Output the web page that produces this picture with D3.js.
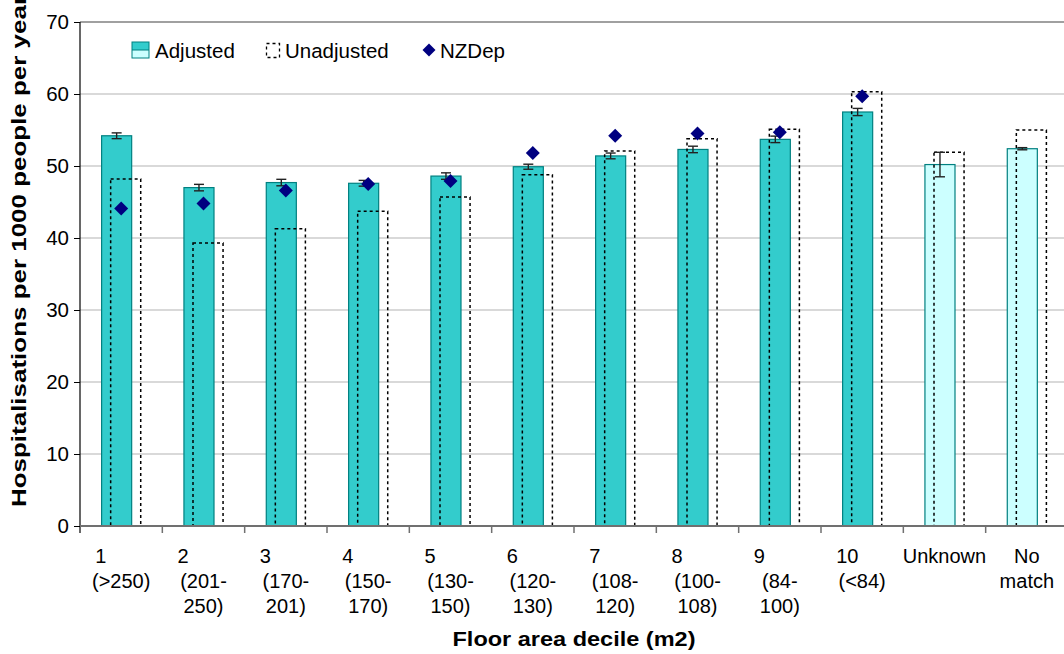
<!DOCTYPE html>
<html>
<head>
<meta charset="utf-8">
<script src="https://cdn.jsdelivr.net/npm/d3@7"></script>
<style>
  html, body { margin: 0; padding: 0; background: #fff; }
  svg { display: block; font-family: "Liberation Sans", Arial, sans-serif; }
</style>
</head>
<body>
<svg id="chart" width="1064" height="654"></svg>
<script>
// Hospitalisation rates by floor area decile
const categories = ["1", "2", "3", "4", "5", "6", "7", "8", "9", "10", "Unknown", "No match"];
const tickLabels = [
  ["1", "(>250)"],
  ["2", "(201-", "250)"],
  ["3", "(170-", "201)"],
  ["4", "(150-", "170)"],
  ["5", "(130-", "150)"],
  ["6", "(120-", "130)"],
  ["7", "(108-", "120)"],
  ["8", "(100-", "108)"],
  ["9", "(84-", "100)"],
  ["10", "(<84)"],
  ["Unknown"],
  ["No", "match"]
];
const adjusted   = [54.2, 47.0, 47.7, 47.6, 48.6, 49.9, 51.4, 52.3, 53.7, 57.5, 50.2, 52.4];
const adjustedCI = [0.4, 0.45, 0.45, 0.4, 0.45, 0.35, 0.4, 0.45, 0.45, 0.5, 1.7, 0.15];
const unadjusted = [48.2, 39.3, 41.3, 43.7, 45.7, 48.8, 52.1, 53.8, 55.1, 60.3, 51.9, 55.0];
const nzdep      = [44.1, 44.8, 46.6, 47.5, 47.9, 51.8, 54.2, 54.5, 54.7, 59.7, null, null];
const yTicks     = [0, 10, 20, 30, 40, 50, 60, 70];

const svg = d3.select("#chart");
const plot = { left: 80, right: 1068, top: 22, bottom: 526 };

const x = d3.scaleBand().domain(categories).range([plot.left, plot.right]).padding(0);
const y = d3.scaleLinear().domain([0, 70]).range([plot.bottom, plot.top]);

const bw = x.bandwidth();
const barW = bw * 0.365;
const shift = bw * 0.055;
const cx = c => x(c) + bw / 2;

const TEAL = "#33CCCC", LIGHT = "#CCFFFF", EDGE = "#008080", NAVY = "#000080";

// gridlines
svg.append("g").selectAll("line").data(yTicks.filter(t => t > 0 && t < 70)).join("line")
  .attr("x1", plot.left).attr("x2", plot.right)
  .attr("y1", d => y(d)).attr("y2", d => y(d))
  .attr("stroke", "#cccccc").attr("stroke-width", 1.3);
// top border of plot area
svg.append("line").attr("x1", plot.left).attr("x2", plot.right)
  .attr("y1", y(70)).attr("y2", y(70)).attr("stroke", "#808080").attr("stroke-width", 1.3);

// adjusted bars
svg.append("g").selectAll("rect").data(categories).join("rect")
  .attr("x", (c) => cx(c) - shift - barW / 2)
  .attr("width", barW)
  .attr("y", (c, i) => y(adjusted[i]))
  .attr("height", (c, i) => y(0) - y(adjusted[i]))
  .attr("fill", (c, i) => nzdep[i] == null ? LIGHT : TEAL)
  .attr("stroke", EDGE).attr("stroke-width", 1.2);

// unadjusted outlines (dotted)
svg.append("g").selectAll("rect").data(categories).join("rect")
  .attr("x", (c) => cx(c) + shift - barW / 2)
  .attr("width", barW)
  .attr("y", (c, i) => y(unadjusted[i]))
  .attr("height", (c, i) => y(0) - y(unadjusted[i]))
  .attr("fill", "none")
  .attr("stroke", "#000").attr("stroke-width", 1.5)
  .attr("stroke-dasharray", "3,3");

// confidence intervals on adjusted rates
const eb = svg.append("g").attr("stroke", "#222").attr("stroke-width", 1.4);
categories.forEach((c, i) => {
  const xc = cx(c) - shift;
  const hi = y(adjusted[i] + adjustedCI[i]);
  const lo = y(adjusted[i] - adjustedCI[i]);
  eb.append("line").attr("x1", xc).attr("x2", xc).attr("y1", hi).attr("y2", lo);
  eb.append("line").attr("x1", xc - 5).attr("x2", xc + 5).attr("y1", hi).attr("y2", hi);
  eb.append("line").attr("x1", xc - 5).attr("x2", xc + 5).attr("y1", lo).attr("y2", lo);
});

// NZDep markers
const dpath = s => `M0,${-s}L${s},0L0,${s}L${-s},0Z`;
svg.append("g").selectAll("path")
  .data(categories.map((c, i) => ({ c, v: nzdep[i] })).filter(d => d.v != null))
  .join("path")
  .attr("d", dpath(7))
  .attr("transform", d => `translate(${cx(d.c)},${y(d.v)})`)
  .attr("fill", NAVY);

// y axis
const yAxis = svg.append("g").attr("transform", `translate(${plot.left},0)`)
  .call(d3.axisLeft(y).tickValues(yTicks).tickSize(6).tickPadding(5).tickFormat(d3.format("d")));
yAxis.select(".domain").remove();
yAxis.selectAll(".tick line").attr("stroke", "#000");
yAxis.selectAll("text").attr("font-size", 20.5).attr("fill", "#000")
  .attr("font-family", "Liberation Sans, Arial, sans-serif");
svg.append("line").attr("x1", plot.left).attr("x2", plot.left)
  .attr("y1", plot.top).attr("y2", plot.bottom + 7).attr("stroke", "#000").attr("stroke-width", 1.2);

// x axis
svg.append("line").attr("x1", plot.left).attr("x2", plot.right)
  .attr("y1", plot.bottom).attr("y2", plot.bottom).attr("stroke", "#707070").attr("stroke-width", 2);
svg.append("g").selectAll("line").data(categories.slice(1)).join("line")
  .attr("x1", c => x(c)).attr("x2", c => x(c))
  .attr("y1", plot.bottom).attr("y2", plot.bottom + 7)
  .attr("stroke", "#707070").attr("stroke-width", 1.5);

// category labels
const lab = svg.append("g").attr("font-size", 20).attr("fill", "#000");
categories.forEach((c, i) => {
  const lines = tickLabels[i];
  lines.forEach((t, k) => {
    const numeric = k === 0 && lines.length > 1 && /^\d+$/.test(t);
    lab.append("text")
      .attr("x", numeric ? cx(c) - 26 : cx(c))
      .attr("y", 563 + k * 25)
      .attr("text-anchor", numeric ? "start" : "middle")
      .text(t);
  });
});

// axis titles
svg.append("text")
  .attr("transform", "translate(26,507) rotate(-90)")
  .attr("text-anchor", "start")
  .attr("font-size", 21).attr("font-weight", "bold")
  .attr("textLength", 512).attr("lengthAdjust", "spacingAndGlyphs")
  .text("Hospitalisations per 1000 people per year");
svg.append("text")
  .attr("x", 574).attr("y", 646)
  .attr("text-anchor", "middle")
  .attr("font-size", 21).attr("font-weight", "bold")
  .attr("textLength", 243).attr("lengthAdjust", "spacingAndGlyphs")
  .text("Floor area decile (m2)");

// legend
const lg = svg.append("g").attr("font-size", 20.5);
lg.append("rect").attr("x", 132).attr("y", 42).attr("width", 17).attr("height", 8)
  .attr("fill", TEAL).attr("stroke", "none");
lg.append("rect").attr("x", 132).attr("y", 50).attr("width", 17).attr("height", 8)
  .attr("fill", LIGHT).attr("stroke", "none");
lg.append("rect").attr("x", 132).attr("y", 42).attr("width", 17).attr("height", 16)
  .attr("fill", "none").attr("stroke", EDGE).attr("stroke-width", 1);
lg.append("line").attr("x1", 132).attr("x2", 149).attr("y1", 50).attr("y2", 50)
  .attr("stroke", EDGE).attr("stroke-width", 1);
lg.append("text").attr("x", 155).attr("y", 58).text("Adjusted");
lg.append("rect").attr("x", 266.5).attr("y", 43.5).attr("width", 13).attr("height", 14)
  .attr("fill", "none").attr("stroke", "#000").attr("stroke-width", 1.3).attr("stroke-dasharray", "3,3");
lg.append("text").attr("x", 285).attr("y", 58).text("Unadjusted");
lg.append("path").attr("d", dpath(6.5)).attr("transform", "translate(429,50)").attr("fill", NAVY);
lg.append("text").attr("x", 440).attr("y", 58).text("NZDep");
</script>
</body>
</html>
